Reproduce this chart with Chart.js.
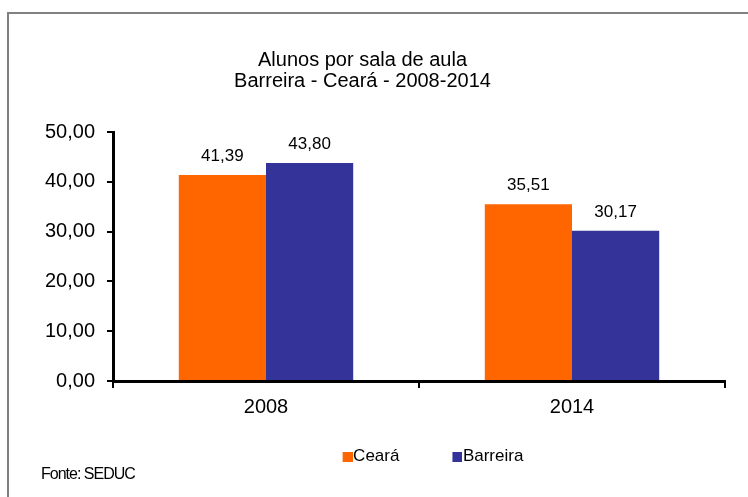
<!DOCTYPE html>
<html>
<head>
<meta charset="utf-8">
<script src="https://cdn.jsdelivr.net/npm/chart.js@4/dist/chart.umd.min.js"></script>
<style>
html,body{margin:0;padding:0;background:#fff;}
#wrap{width:748px;height:497px;position:relative;}
</style>
</head>
<body>
<div id="wrap"><canvas id="c" width="748" height="497"></canvas></div>
<script>
const categories = ['2008', '2014'];
const seriesNames = ['Ceará', 'Barreira'];
const seriesColors = ['#FF6600', '#333399'];
const cearaValues = [41.39, 35.51];
const barreiraValues = [43.80, 30.17];
const yTicks = [0, 10, 20, 30, 40, 50];
const titleLines = ['Alunos por sala de aula', 'Barreira - Ceará - 2008-2014'];
const sourceNote = 'Fonte: SEDUC';

const FONT = "'Liberation Sans', Arial, sans-serif";
const fmt = v => v.toFixed(2).replace('.', ',');

// legend marker: square sitting right next to the label text
function makeMarker(color) {
  const cv = document.createElement('canvas');
  cv.width = 26; cv.height = 10;
  const g = cv.getContext('2d');
  g.fillStyle = color;
  g.fillRect(16, 0, 10, 10);
  return cv;
}
const markers = seriesColors.map(makeMarker);

const frame = {
  id: 'frame',
  afterLayout(chart) {
    if (chart.legend) { chart.legend.left += 10; chart.legend.right += 10; }
    const x = chart.scales.x;
    if (x) { x.bottom = x.top + 60; }
  },
  beforeDraw(chart) {
    const ctx = chart.ctx;
    ctx.save();
    ctx.fillStyle = '#fff';
    ctx.fillRect(0, 0, chart.width, chart.height);
    ctx.strokeStyle = '#808080';
    ctx.lineWidth = 2;
    ctx.strokeRect(8, 13, 760, 500);
    ctx.restore();
  },
  afterDraw(chart) {
    const ctx = chart.ctx;
    ctx.save();
    ctx.font = '16px ' + FONT;
    ctx.fillStyle = '#000';
    ctx.textBaseline = 'middle';
    ctx.textAlign = 'left';
    try { ctx.letterSpacing = '-1px'; } catch (e) {}
    ctx.fillText(sourceNote, 41, 475);
    ctx.restore();
  }
};

const valueLabels = {
  id: 'valueLabels',
  afterDatasetsDraw(chart) {
    const ctx = chart.ctx;
    ctx.save();
    ctx.font = '17px ' + FONT;
    ctx.fillStyle = '#000';
    ctx.textAlign = 'center';
    ctx.textBaseline = 'alphabetic';
    chart.data.datasets.forEach((ds, i) => {
      chart.getDatasetMeta(i).data.forEach((bar, j) => {
        ctx.fillText(fmt(ds.data[j]), bar.x, bar.y - 14);
      });
    });
    ctx.restore();
  }
};

new Chart(document.getElementById('c'), {
  type: 'bar',
  data: {
    labels: categories,
    datasets: [
      { label: seriesNames[0], data: cearaValues, backgroundColor: seriesColors[0], borderWidth: 0 },
      { label: seriesNames[1], data: barreiraValues, backgroundColor: seriesColors[1], borderWidth: 0 }
    ]
  },
  options: {
    responsive: false,
    animation: false,
    devicePixelRatio: 1,
    categoryPercentage: 0.57,
    barPercentage: 1,
    layout: { padding: { left: 0, right: 23, top: 50, bottom: 22 } },
    plugins: {
      title: {
        display: true,
        text: titleLines,
        color: '#000',
        font: { family: FONT, size: 20, weight: 'normal', lineHeight: 1.05 },
        padding: { top: 0, bottom: 40 }
      },
      legend: {
        display: true,
        position: 'bottom',
        fullSize: false,
        labels: {
          color: '#000',
          font: { family: FONT, size: 17 },
          usePointStyle: true,
          pointStyleWidth: 10,
          boxHeight: 10,
          padding: 45,
          generateLabels(chart) {
            const items = Chart.defaults.plugins.legend.labels.generateLabels(chart);
            items.forEach((it, i) => { it.pointStyle = markers[i]; });
            return items;
          }
        }
      },
      tooltip: { enabled: false }
    },
    scales: {
      x: {
        afterFit(scale) { scale.height = 22; },
        grid: { display: true, drawOnChartArea: false, drawTicks: true, tickLength: 7, color: '#000', lineWidth: 2, offset: true },
        border: { display: true, color: '#000', width: 3 },
        ticks: { color: '#000', font: { family: FONT, size: 20 }, padding: 7 }
      },
      y: {
        min: 0,
        max: 50,
        afterBuildTicks(scale) { scale.ticks = yTicks.map(v => ({ value: v })); },
        afterFit(scale) { scale.width = 113; },
        grid: { display: true, drawOnChartArea: false, drawTicks: true, tickLength: 6, color: '#000', lineWidth: 2 },
        border: { display: true, color: '#000', width: 3 },
        ticks: { color: '#000', font: { family: FONT, size: 20 }, padding: 12, callback: v => fmt(v) }
      }
    }
  },
  plugins: [frame, valueLabels]
});
</script>
</body>
</html>
